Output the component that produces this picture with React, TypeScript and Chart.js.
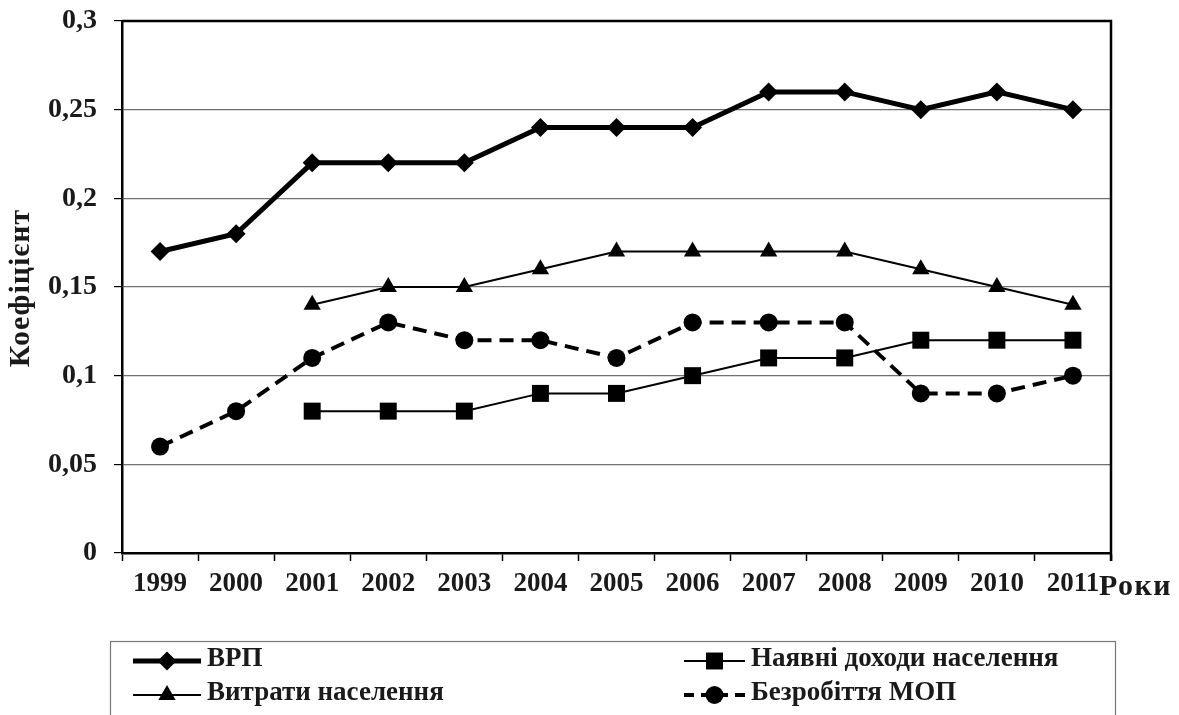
import React, { useEffect, useRef } from 'react';
import { Chart, registerables } from 'chart.js';

Chart.register(...registerables);

const years = ['1999', '2000', '2001', '2002', '2003', '2004', '2005', '2006', '2007', '2008', '2009', '2010', '2011'];
const vrp = [0.17, 0.18, 0.22, 0.22, 0.22, 0.24, 0.24, 0.24, 0.26, 0.26, 0.25, 0.26, 0.25];
const dokhody = [null, null, 0.08, 0.08, 0.08, 0.09, 0.09, 0.10, 0.11, 0.11, 0.12, 0.12, 0.12];
const vytraty = [null, null, 0.14, 0.15, 0.15, 0.16, 0.17, 0.17, 0.17, 0.17, 0.16, 0.15, 0.14];
const bezrobittia = [0.06, 0.08, 0.11, 0.13, 0.12, 0.12, 0.11, 0.13, 0.13, 0.13, 0.09, 0.09, 0.10];
const seriesNames = ['ВРП', 'Наявні доходи населення', 'Витрати населення', 'Безробіття МОП'];
const yTickLabels = ['0', '0,05', '0,1', '0,15', '0,2', '0,25', '0,3'];
const yTitle = 'Коефіцієнт';
const xTitle = 'Роки';

const FONT = "'Liberation Serif', 'Times New Roman', serif";
const TXT = '#1a1a1a';

function drawMarker(ctx: CanvasRenderingContext2D, style: string, x: number, y: number, r: number) {
  ctx.beginPath();
  if (style === 'rectRot') {
    ctx.moveTo(x, y - r);
    ctx.lineTo(x + r, y);
    ctx.lineTo(x, y + r);
    ctx.lineTo(x - r, y);
  } else if (style === 'rect') {
    const s = r * Math.SQRT1_2;
    ctx.rect(x - s, y - s, 2 * s, 2 * s);
  } else if (style === 'triangle') {
    ctx.moveTo(x, y - r);
    ctx.lineTo(x + r * 0.866, y + r * 0.5);
    ctx.lineTo(x - r * 0.866, y + r * 0.5);
  } else {
    ctx.arc(x, y, r, 0, Math.PI * 2);
  }
  ctx.closePath();
  ctx.fill();
}

const framePlugin = {
  id: 'frameAndLegend',
  afterDraw(chart: any) {
    const { ctx, chartArea } = chart;
    const { left, top, right, bottom } = chartArea;
    ctx.save();
    // frame top & right
    ctx.strokeStyle = '#000';
    ctx.lineWidth = 2.5;
    ctx.beginPath();
    ctx.moveTo(left, top);
    ctx.lineTo(right, top);
    ctx.lineTo(right, bottom + 8);
    ctx.stroke();

    // Y-axis title
    ctx.save();
    ctx.translate(21, (top + bottom) / 2 + 1);
    ctx.rotate(-Math.PI / 2);
    ctx.fillStyle = TXT;
    ctx.font = `bold 30px ${FONT}`;
    (ctx as any).letterSpacing = '1px';
    ctx.textAlign = 'center';
    ctx.textBaseline = 'middle';
    ctx.fillText(yTitle, 0, 0);
    ctx.restore();

    // X-axis title "Роки"
    ctx.save();
    ctx.fillStyle = TXT;
    ctx.font = `bold 30px ${FONT}`;
    (ctx as any).letterSpacing = '1.5px';
    ctx.textAlign = 'left';
    ctx.textBaseline = 'middle';
    ctx.fillText(xTitle, right - 12, bottom + 34);
    ctx.restore();

    // Legend box
    ctx.strokeStyle = '#777';
    ctx.lineWidth = 1.2;
    ctx.strokeRect(110.5, 641.5, 1005, 90);

    const items = chart.data.datasets.map((ds: any, i: number) => ({
      label: ds.label,
      style: ds.pointStyle,
      r: ds.pointRadius,
      lw: ds.borderWidth,
      dash: ds.borderDash || [],
      col: i === 0 || i === 2 ? 0 : 1,
      row: i < 2 ? 0 : 1,
    }));
    const colX = [[133, 201, 207], [684, 745, 751]];
    const rowY = [661, 695];
    items.forEach((it: any) => {
      const [x0, x1, tx] = colX[it.col];
      const y = rowY[it.row];
      ctx.strokeStyle = '#000';
      ctx.fillStyle = '#000';
      ctx.lineWidth = it.lw;
      ctx.setLineDash(it.dash.length ? [10, 7] : []);
      ctx.beginPath();
      ctx.moveTo(x0, y);
      ctx.lineTo(x1, y);
      ctx.stroke();
      ctx.setLineDash([]);
      drawMarker(ctx, it.style, (x0 + x1) / 2, y, it.r);
      ctx.fillStyle = TXT;
      ctx.font = `bold 27px ${FONT}`;
      ctx.textAlign = 'left';
      ctx.textBaseline = 'middle';
      ctx.fillText(it.label, tx, y - 2);
    });
    ctx.restore();
  },
};

export default function App() {
  const ref = useRef<HTMLCanvasElement | null>(null);
  useEffect(() => {
    if (!ref.current) return;
    const chart = new Chart(ref.current, {
      type: 'line',
      data: {
        labels: years,
        datasets: [
          {
            label: seriesNames[0],
            data: vrp,
            borderColor: '#000',
            backgroundColor: '#000',
            borderWidth: 5,
            pointStyle: 'rectRot',
            pointRadius: 9.5,
            pointBorderWidth: 0,
          },
          {
            label: seriesNames[1],
            data: dokhody,
            borderColor: '#000',
            backgroundColor: '#000',
            borderWidth: 2,
            pointStyle: 'rect',
            pointRadius: 12,
            pointBorderWidth: 0,
          },
          {
            label: seriesNames[2],
            data: vytraty,
            borderColor: '#000',
            backgroundColor: '#000',
            borderWidth: 2,
            pointStyle: 'triangle',
            pointRadius: 10,
            pointBorderWidth: 0,
          },
          {
            label: seriesNames[3],
            data: bezrobittia,
            borderColor: '#000',
            backgroundColor: '#000',
            borderWidth: 4,
            borderDash: [14, 8],
            pointStyle: 'circle',
            pointRadius: 9,
            pointBorderWidth: 0,
          },
        ],
      },
      options: {
        responsive: false,
        animation: false,
        layout: { padding: { left: 0, top: 21, right: 68, bottom: 0 } },
        plugins: {
          legend: { display: false },
          tooltip: { enabled: false },
          title: { display: false },
        },
        elements: { line: { tension: 0 } },
        scales: {
          x: {
            type: 'category',
            offset: true,
            afterFit: (s: any) => { s.height = 162; s.paddingLeft = 0; s.paddingRight = 0; },
            grid: {
              display: true,
              offset: true,
              drawOnChartArea: false,
              drawTicks: true,
              tickLength: 8,
              tickColor: '#000',
              tickWidth: 1.5,
            },
            border: { display: true, color: '#000', width: 2.5 },
            ticks: {
              color: TXT,
              font: { family: FONT, size: 27, weight: 'bold' },
              padding: 7,
              maxRotation: 0,
              autoSkip: false,
            },
          },
          y: {
            min: 0,
            max: 0.3,
            afterFit: (s: any) => { s.width = 122; s.paddingTop = 0; s.paddingBottom = 0; },
            grid: {
              color: '#707070',
              lineWidth: 1.2,
              drawTicks: true,
              tickLength: 8,
              tickColor: '#000',
              tickWidth: 1.2,
            },
            border: { display: true, color: '#000', width: 2.5 },
            ticks: {
              stepSize: 0.05,
              color: TXT,
              font: { family: FONT, size: 28, weight: 'bold' },
              padding: 17,
              callback: (v: any) => yTickLabels[Math.round(Number(v) / 0.05)] ?? '',
            },
          },
        },
      },
      plugins: [framePlugin],
    } as any);
    return () => chart.destroy();
  }, []);
  return (
    <div style={{ position: 'absolute', left: 0, top: 0, width: 1179, height: 715, background: '#fff' }}>
      <canvas ref={ref} width={1179} height={715} style={{ display: 'block' }} />
    </div>
  );
}
